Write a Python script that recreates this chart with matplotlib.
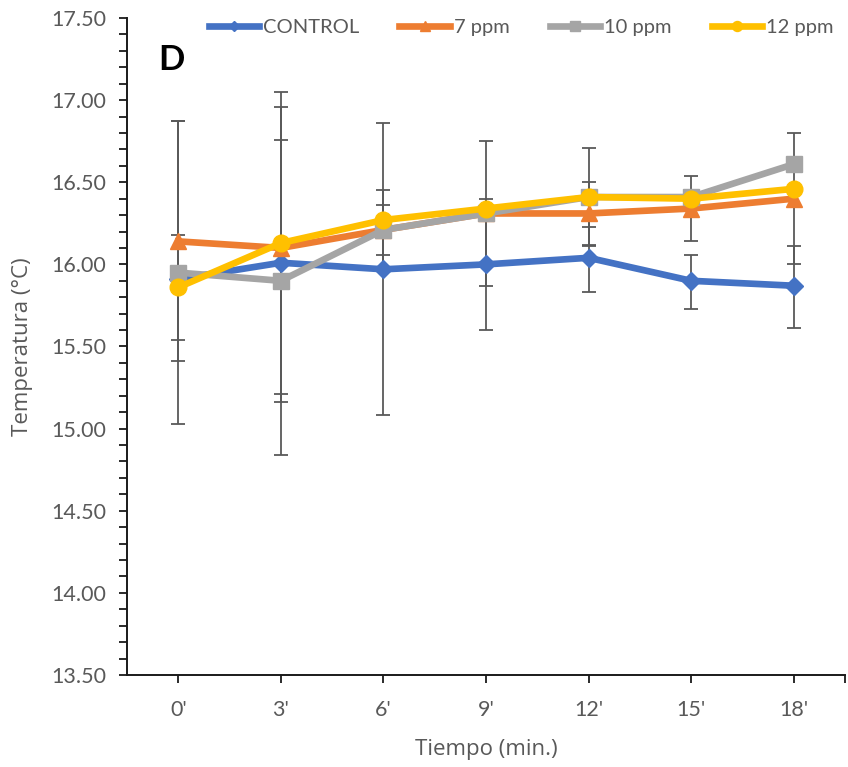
import matplotlib.pyplot as plt
import numpy as np

plt.rcParams['font.family'] = ['Lato', 'DejaVu Sans']

times = ["0'", "3'", "6'", "9'", "12'", "15'", "18'"]
series = ['CONTROL', '7 ppm', '10 ppm', '12 ppm']

control = [15.91, 16.01, 15.97, 16.00, 16.04, 15.90, 15.87]
ppm7 = [16.14, 16.10, 16.21, 16.31, 16.31, 16.34, 16.40]
ppm10 = [15.95, 15.90, 16.21, 16.31, 16.41, 16.41, 16.61]
ppm12 = [15.86, 16.13, 16.27, 16.34, 16.41, 16.40, 16.46]

# error bars (lower, upper)
control_lo = [0.00, 0.85, 0.89, 0.40, 0.21, 0.17, 0.26]
control_hi = [0.00, 0.75, 0.89, 0.40, 0.19, 0.16, 0.24]
ppm7_err = [0.73, 0.00, 0.15, 0.44, 0.19, 0.20, 0.40]
ppm10_err = [0.92, 1.06, 0.24, 0.00, 0.30, 0.00, 0.00]
ppm12_err = [0.32, 0.92, 0.00, 0.00, 0.00, 0.00, 0.00]

colors = ['#4472C4', '#ED7D31', '#A5A5A5', '#FFC000']
markers = ['D', '^', 's', 'o']
msizes = [9, 11, 11, 12]

values = [control, ppm7, ppm10, ppm12]
errors = [[control_lo, control_hi], ppm7_err, ppm10_err, ppm12_err]

x = np.arange(len(times))

fig = plt.figure(figsize=(8.48, 7.67), dpi=100)
ax = fig.add_axes([0.1498, 0.12, 0.8467, 0.8565])

for vals, err in zip(values, errors):
    ax.errorbar(x, vals, yerr=err, fmt='none', ecolor='#595959',
                elinewidth=1.3, capsize=5, capthick=1.3, zorder=2)

for vals, name, c, m, ms in zip(values, series, colors, markers, msizes):
    ax.plot(x, vals, color=c, marker=m, markersize=ms, linewidth=4.8,
            label=name, zorder=3)

ax.set_xlim(-0.5, 6.5)
ax.set_ylim(13.5, 17.5)
ax.set_xticks(list(x) + [6.5])
ax.set_xticklabels(times + [''])
ax.set_yticks(np.arange(13.5, 17.51, 0.5))
ax.set_yticklabels(['%.2f' % v for v in np.arange(13.5, 17.51, 0.5)])
ax.set_yticks(np.arange(13.5, 17.51, 0.1), minor=True)

for side in ['top', 'right']:
    ax.spines[side].set_visible(False)
for side in ['left', 'bottom']:
    ax.spines[side].set_linewidth(1.4)
    ax.spines[side].set_color('#1a1a1a')

ax.tick_params(axis='both', which='both', direction='out', length=6,
               width=1.3, color='#1a1a1a', labelsize=15.5, labelcolor='#595959')
ax.tick_params(axis='y', pad=9)
ax.tick_params(axis='x', pad=12)

ax.set_xlabel('Tiempo (min.)', fontsize=16, family='Open Sans',
              color='#595959', labelpad=14)
ax.set_ylabel('Temperatura (°C)', fontsize=16, family='Open Sans',
              color='#595959', labelpad=13)

ax.text(0.043, 0.96, 'D', transform=ax.transAxes, fontsize=25,
        fontweight='bold', color='black', va='top', ha='left')

leg = ax.legend(loc='center', bbox_to_anchor=(0.549, 0.986), ncol=4,
                frameon=False, fontsize=14.5, handlelength=2.5,
                columnspacing=2.0, handletextpad=0.2, markerscale=0.6)
for t in leg.get_texts():
    t.set_color('#595959')

fig.savefig('out.png', dpi=100)
